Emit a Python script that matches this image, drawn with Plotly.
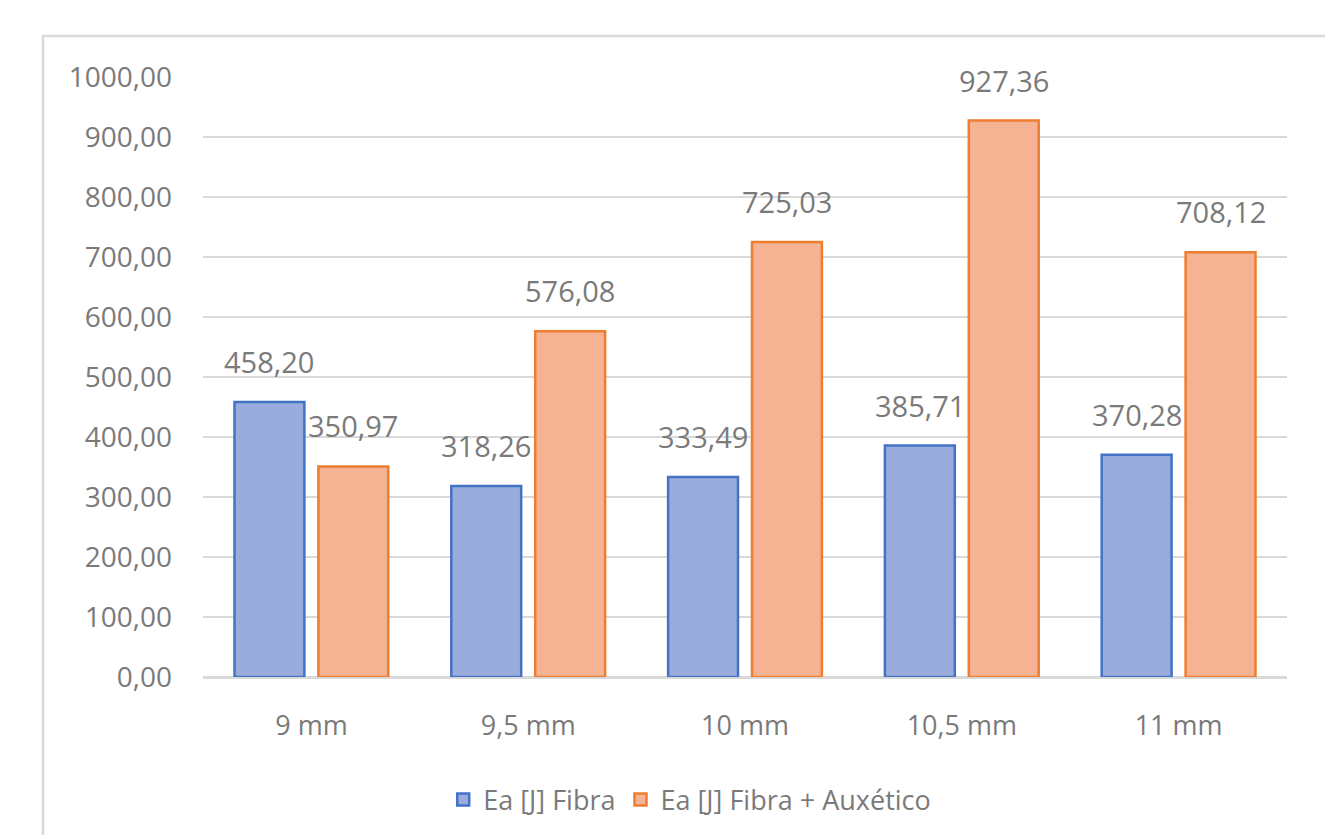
import plotly.graph_objects as go

categories = ["9 mm", "9,5 mm", "10 mm", "10,5 mm", "11 mm"]
fibra = [458.20, 318.26, 333.49, 385.71, 370.28]
fibra_aux = [350.97, 576.08, 725.03, 927.36, 708.12]
series_names = ["Ea [J] Fibra", "Ea [J] Fibra + Auxético"]
y_ticks = [0, 100, 200, 300, 400, 500, 600, 700, 800, 900, 1000]

FONT = "Open Sans"
TXT = "#7a7a7a"
fill_colors = ["#99acdb", "#f5b394"]
line_colors = ["#4472c4", "#ed7d31"]

fig = go.Figure()
for name, vals, fc, lc in zip(series_names, [fibra, fibra_aux], fill_colors, line_colors):
    fig.add_trace(go.Bar(
        x=categories, y=vals, name=name,
        marker=dict(color=fc, line=dict(color=lc, width=2.5)),
    ))

annotations = []
for vals, shift in zip([fibra, fibra_aux], [-42, 42]):
    for c, v in zip(categories, vals):
        annotations.append(dict(
            x=c, y=v, xref="x", yref="y", xshift=shift, yshift=19,
            text=f"{v:.2f}".replace(".", ","), showarrow=False,
            yanchor="bottom", font=dict(family=FONT, size=29, color=TXT),
        ))

L, R, T, B = 203, 38, 77, 157
W, H = 1325, 835
pw, ph = W - L - R, H - T - B

fig.update_layout(
    width=W, height=H,
    margin=dict(l=L, r=R, t=T, b=B),
    paper_bgcolor="white", plot_bgcolor="white",
    separators=",.",
    barmode="group", bargap=0.226, bargroupgap=0.167,
    font=dict(family=FONT, size=28, color=TXT),
    showlegend=True,
    legend=dict(orientation="h", x=0.449, xanchor="center", y=(678 - 800) / ph, yanchor="middle",
                font=dict(family=FONT, size=27, color=TXT), itemwidth=30, traceorder="normal"),
    annotations=annotations,
    shapes=[dict(type="rect", xref="paper", yref="paper",
                 x0=(43 - L) / pw, x1=(1400 - L) / pw,
                 y0=(678 - 900) / ph, y1=(678 - 36) / ph,
                 line=dict(color="#d9d9d9", width=2.5), fillcolor="rgba(0,0,0,0)", layer="below")],
)
fig.update_yaxes(range=[0, 1000], tickvals=y_ticks, tickformat=".2f",
                 showgrid=True, gridcolor="#d9d9d9", gridwidth=2,
                 zeroline=True, zerolinecolor="#d9d9d9", zerolinewidth=2,
                 showline=False, ticklabelstandoff=30,
                 tickfont=dict(family=FONT, size=28, color=TXT))
fig.update_xaxes(showline=True, linecolor="#d9d9d9", linewidth=2, ticks="",
                 ticklabelstandoff=24,
                 tickfont=dict(family=FONT, size=27, color=TXT))

fig.write_html("out.html")
